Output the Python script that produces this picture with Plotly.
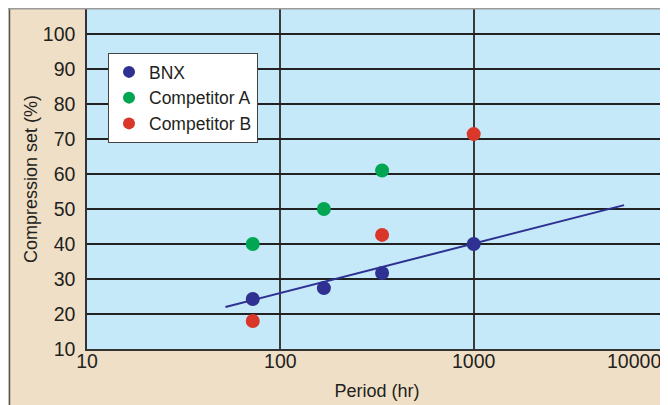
import plotly.graph_objects as go

# ---- data ----
period_hr = [72, 168, 336, 1000]
bnx = [24.3, 27.4, 31.7, 40.0]
comp_a_x = [72, 168, 336]
comp_a = [40.0, 50.0, 61.0]
comp_b_x = [72, 336, 1000]
comp_b = [18.0, 42.6, 71.4]
trend_x = [52, 6000]
trend_y = [22.0, 51.1]

x_ticks = [10, 100, 1000, 10000]
x_tick_text = ["10", "100", "1000", ""]
y_ticks = [10, 20, 30, 40, 50, 60, 70, 80, 90, 100]

BLUE = "#2e3192"
GREEN = "#00a651"
RED = "#d9372a"
TAN = "#f0dfc7"
PLOTBG = "#c6e9f9"
TXT = "#231f20"

W, H = 660, 397
ML, MR, MT, MB = 79, 1, 1, 56
PW = W - ML - MR
PH = H - MT - MB


def px_x(p):
    return (p - ML) / PW


def px_y(p):
    return 1 - (p - MT) / PH


fig = go.Figure()
fig.add_trace(go.Scatter(x=trend_x, y=trend_y, mode="lines",
                         line=dict(color=BLUE, width=2), showlegend=False,
                         hoverinfo="skip"))
fig.add_trace(go.Scatter(x=period_hr, y=bnx, mode="markers", name="BNX",
                         marker=dict(color=BLUE, size=14)))
fig.add_trace(go.Scatter(x=comp_a_x, y=comp_a, mode="markers", name="Competitor A",
                         marker=dict(color=GREEN, size=14)))
fig.add_trace(go.Scatter(x=comp_b_x, y=comp_b, mode="markers", name="Competitor B",
                         marker=dict(color=RED, size=14)))

shapes = [
    dict(type="line", xref="paper", yref="paper", x0=px_x(1.5), x1=px_x(1.5),
         y0=px_y(H + 2), y1=px_y(0.5), line=dict(color="#555555", width=1.5), layer="above"),
    dict(type="line", xref="paper", yref="paper", x0=px_x(0), x1=px_x(W),
         y0=px_y(0.7), y1=px_y(0.7), line=dict(color="#9a9a9a", width=1.5), layer="above"),
    dict(type="line", xref="paper", yref="paper", x0=1, x1=1,
         y0=px_y(H + 2), y1=px_y(0.5), line=dict(color="#444444", width=1.5), layer="above"),
]

fig.update_layout(
    template="none",
    width=W, height=H,
    margin=dict(l=ML, r=MR, t=MT, b=MB, pad=0, autoexpand=False),
    paper_bgcolor=TAN, plot_bgcolor=PLOTBG,
    font=dict(family="Liberation Sans, Arial, Helvetica, sans-serif", size=18, color=TXT),
    shapes=shapes,
    showlegend=True,
    legend=dict(x=px_x(100), y=px_y(45), xanchor="left", yanchor="top",
                bgcolor="white", bordercolor="#444444", borderwidth=1,
                font=dict(size=17.5, color=TXT), itemsizing="constant",
                tracegroupgap=0),
    xaxis=dict(type="log", range=[1, 4], tickvals=x_ticks, ticktext=x_tick_text,
               automargin=False,
               showgrid=True, gridcolor="#3a3a3a", gridwidth=1.5,
               showline=True, linecolor="#333333", linewidth=1.5,
               ticks="", ticklabelstandoff=-6, zeroline=False,
               tickfont=dict(size=19.5),
               title=dict(text="Period (hr)", font=dict(size=18), standoff=13)),
    yaxis=dict(range=[10, 107.14], tickvals=y_ticks, automargin=False,
               showgrid=True, gridcolor="#222222", gridwidth=1.5,
               showline=True, linecolor="#333333", linewidth=1.5,
               ticks="", ticklabelstandoff=6, zeroline=False,
               tickfont=dict(size=19.5),
               title=dict(text="Compression set (%)", font=dict(size=18), standoff=1)),
    annotations=[dict(text="10000", xref="paper", yref="paper", x=1, y=0,
                      xanchor="right", yanchor="top", xshift=-4, yshift=1,
                      showarrow=False, font=dict(size=19.5, color=TXT))],
)

fig.write_html("out.html")
